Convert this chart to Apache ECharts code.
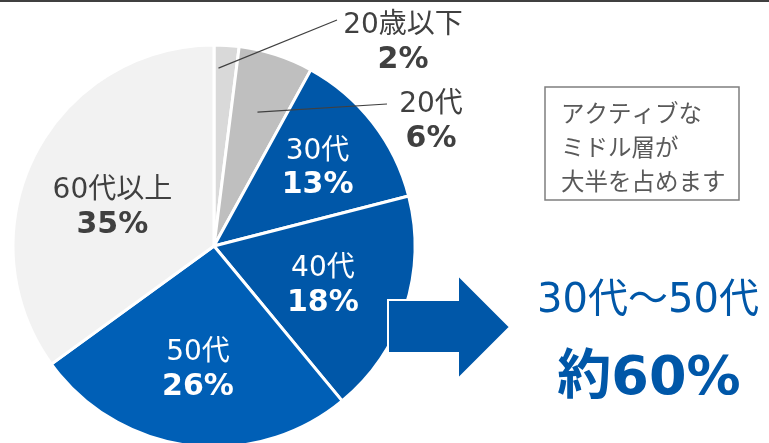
<!DOCTYPE html>
<html><head><meta charset="utf-8">
<script src="https://cdn.jsdelivr.net/npm/echarts@6/dist/echarts.min.js"></script>
<style>html,body{margin:0;padding:0;background:#fff}#c{width:769px;height:443px}</style>
</head><body><div id="c"></div>
<script>
const categories = ['20歳以下', '20代', '30代', '40代', '50代', '60代以上'];
const shares = [2, 6, 13, 18, 26, 35];
const sliceColors = ['#d9d9d9', '#bfbfbf', '#0057a8', '#0057a8', '#005fb6', '#f2f2f2'];
const highlightTitle = '30代～50代';
const highlightValue = '約60%';
const noteLines = ['アクティブな', 'ミドル層が', '大半を占めます'];

const FONT = '"DejaVu Sans", "Noto Sans CJK JP", sans-serif';
const CX = 214, CY = 246, R = 201;
const LABEL_DY = 3;
// inside labels: fraction of radius and angular shift (in %)
const inside = {
  '30代': { f: 0.652, shift: 0 },
  '40代': { f: 0.572, shift: 0.2 },
  '50代': { f: 0.607, shift: 0.1 },
  '60代以上': { f: 0.545, shift: -1.4 }
};
// outside labels: leader start (fraction of radius, angle shift in %), label centre, leader end
const outside = {
  '20歳以下': { f: 0.885, shift: -0.6, lx: 403, ly: 43, ex: 337, ey: 20 },
  '20代': { f: 0.70, shift: 0, lx: 431, ly: 122, ex: 387, ey: 104 }
};

function midAngle(i, shift) {
  const before = shares.slice(0, i).reduce((s, v) => s + v, 0);
  const total = shares.reduce((s, v) => s + v, 0);
  return (90 - (before + shares[i] / 2 + shift) / total * 360) * Math.PI / 180;
}

const chart = echarts.init(document.getElementById('c'), null, { renderer: 'canvas' });

const data = categories.map((n, i) => {
  const dark = i === 0 || i === 1 || i === 5;
  const isOut = !!outside[n];
  return {
    name: n, value: shares[i],
    itemStyle: { color: sliceColors[i] },
    label: { position: isOut ? 'outside' : 'inside', color: dark ? '#404040' : '#ffffff' },
    labelLine: { show: false }
  };
});

const leaderLines = categories.map((n, i) => {
  const o = outside[n];
  if (!o) return null;
  const a = midAngle(i, o.shift);
  return {
    type: 'line', z: 50,
    shape: { x1: CX + Math.cos(a) * R * o.f, y1: CY - Math.sin(a) * R * o.f, x2: o.ex, y2: o.ey },
    style: { stroke: '#404040', lineWidth: 1.2 }
  };
}).filter(Boolean);

chart.setOption({
  animation: false,
  backgroundColor: '#ffffff',
  series: [{
    type: 'pie',
    center: [CX, CY],
    radius: [0, R],
    startAngle: 90,
    clockwise: true,
    avoidLabelOverlap: false,
    itemStyle: { borderColor: '#ffffff', borderWidth: 3 },
    label: {
      show: true,
      fontFamily: FONT,
      formatter: p => '{n|' + p.name + '}\n{v|' + p.value + '%}',
      rich: {
        n: { fontFamily: FONT, fontSize: 28, lineHeight: 34, fontWeight: 'normal', align: 'center' },
        v: { fontFamily: FONT, fontSize: 30, lineHeight: 34, fontWeight: 'bold', align: 'center' }
      }
    },
    labelLayout: function (p) {
      const i = p.dataIndex;
      const name = categories[i];
      if (outside[name]) {
        const o = outside[name];
        return { x: o.lx, y: o.ly, align: 'center', verticalAlign: 'middle' };
      }
      const c = inside[name];
      const a = midAngle(i, c.shift);
      return { x: CX + Math.cos(a) * R * c.f, y: CY - Math.sin(a) * R * c.f + LABEL_DY, align: 'center', verticalAlign: 'middle' };
    },
    data: data
  }],
  graphic: [
    { type: 'line', z: 100, shape: { x1: 0, y1: 1, x2: 769, y2: 1 }, style: { stroke: '#404040', lineWidth: 2 } },
    ...leaderLines,
    { type: 'polygon', z: 100,
      shape: { points: [[388, 300], [458, 300], [458, 275], [510, 327], [458, 379], [458, 353], [388, 353]] },
      style: { fill: '#0057a8', stroke: '#ffffff', lineWidth: 2 } },
    { type: 'rect', z: 100, shape: { x: 545, y: 87, width: 194, height: 113 },
      style: { fill: '#ffffff', stroke: '#7f7f7f', lineWidth: 1.5 } },
    { type: 'text', z: 101, left: 561, top: 96,
      style: { text: noteLines.join('\n'), font: '23.5px "Noto Sans CJK JP", sans-serif', fill: '#595959', lineHeight: 34 } },
    { type: 'text', z: 101, x: 648, y: 302,
      style: { text: highlightTitle, font: '40px ' + FONT, fill: '#0057a8', textAlign: 'center', textVerticalAlign: 'middle' } },
    { type: 'text', z: 101, x: 649, y: 380,
      style: { text: highlightValue, font: 'bold 54px ' + FONT, fill: '#0057a8', textAlign: 'center', textVerticalAlign: 'middle' } }
  ]
});
</script></body></html>
